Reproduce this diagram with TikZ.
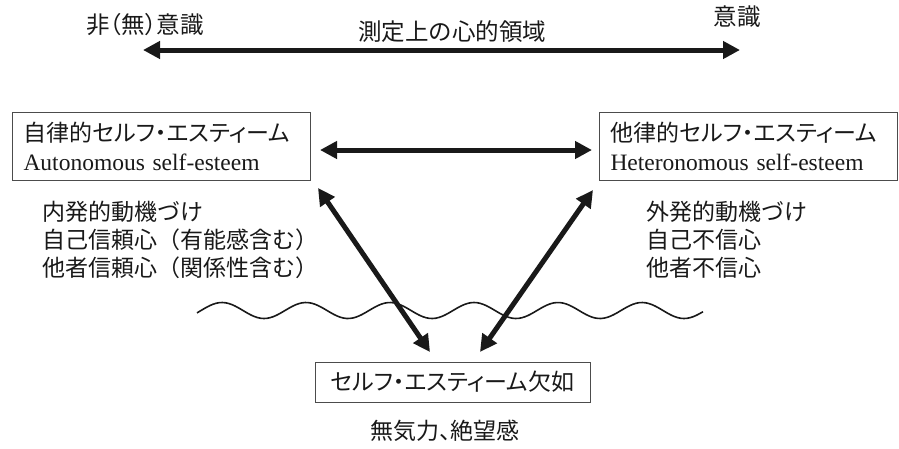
\documentclass[tikz,border=0pt]{standalone}
\usepackage{fontspec}
\usetikzlibrary{arrows.meta}
\newfontfamily\jp{Noto Sans CJK JP}
\newfontfamily\jpp[RawFeature=+palt]{Noto Sans CJK JP}
\newfontfamily\lserif{Liberation Serif}
\begin{document}
\begin{tikzpicture}[x=1pt,y=-1pt,
  dbl/.style={{Triangle[length=17pt,width=17pt]}-{Triangle[length=17pt,width=17pt]}, line width=5pt, draw=black!90},
  sebox/.style={draw=black!70, line width=1pt, rectangle},
  jtxt/.style={font=\jp\fontsize{23}{28}\selectfont, inner sep=0pt, text=black!90},
  jtop/.style={font=\jp\fontsize{23.5}{28}\selectfont, inner sep=0pt, text=black!90},
  titlebox/.style={sebox, minimum width=298pt, minimum height=68pt, inner xsep=11pt, inner ysep=0pt,
    text width=276pt, align=left, font=\jpp\fontsize{23}{28.5}\selectfont, text=black!90},
]
\useasboundingbox (0,0) rectangle (899,448);

% top scale
\node[jtop, font=\jpp\fontsize{23.5}{28}\selectfont] (uncon) at (145,25) {非（無）意識};
\node[jtop] (scale) at (452,32) {測定上の心的領域};
\node[jtop] (con) at (737,17) {意識};
\coordinate (tl) at (143,50);
\coordinate (tr) at (740,50);
\draw[dbl] (tl) -- (tr);

% boxes
\node[titlebox, anchor=north west] (auto) at (12,112)
  {自律的セルフ・エスティーム\\{\lserif\fontsize{23.5}{28.5}\selectfont Autonomous self-esteem}};
\node[titlebox, anchor=north west] (hetero) at (599,112)
  {他律的セルフ・エスティーム\\{\lserif\fontsize{23.5}{28.5}\selectfont Heteronomous self-esteem}};
\node[sebox, minimum width=275pt, minimum height=40pt, inner sep=0pt,
  font=\jpp\fontsize{23}{28}\selectfont, text=black!90] (lack) at (452.5,382) {セルフ・エスティーム欠如};

% descriptions
\node[jtxt, align=left, anchor=west] (autodesc) at (42,240)
  {内発的動機づけ\\自己信頼心（有能感含む）\\他者信頼心（関係性含む）};
\node[jtxt, align=left, anchor=west] (heterodesc) at (646,240)
  {外発的動機づけ\\自己不信心\\他者不信心};
\node[jtxt, font=\jpp\fontsize{23}{28}\selectfont] (apathy) at (445,431) {無気力、絶望感};

% wave
\draw[line width=1.6pt, black!90] plot[domain=197:703, samples=160, smooth]
  (\x, {310.5-8*cos(4.285714*(\x-222))});

% connectors
\coordinate (ml) at (320,150);
\coordinate (mr) at (592,150);
\draw[dbl] (ml) -- (mr);
\coordinate (dl1) at (318,188);
\coordinate (dl2) at (430,352);
\draw[dbl] (dl1) -- (dl2);
\coordinate (dr1) at (593,190);
\coordinate (dr2) at (480,352);
\draw[dbl] (dr1) -- (dr2);
\end{tikzpicture}
\end{document}
